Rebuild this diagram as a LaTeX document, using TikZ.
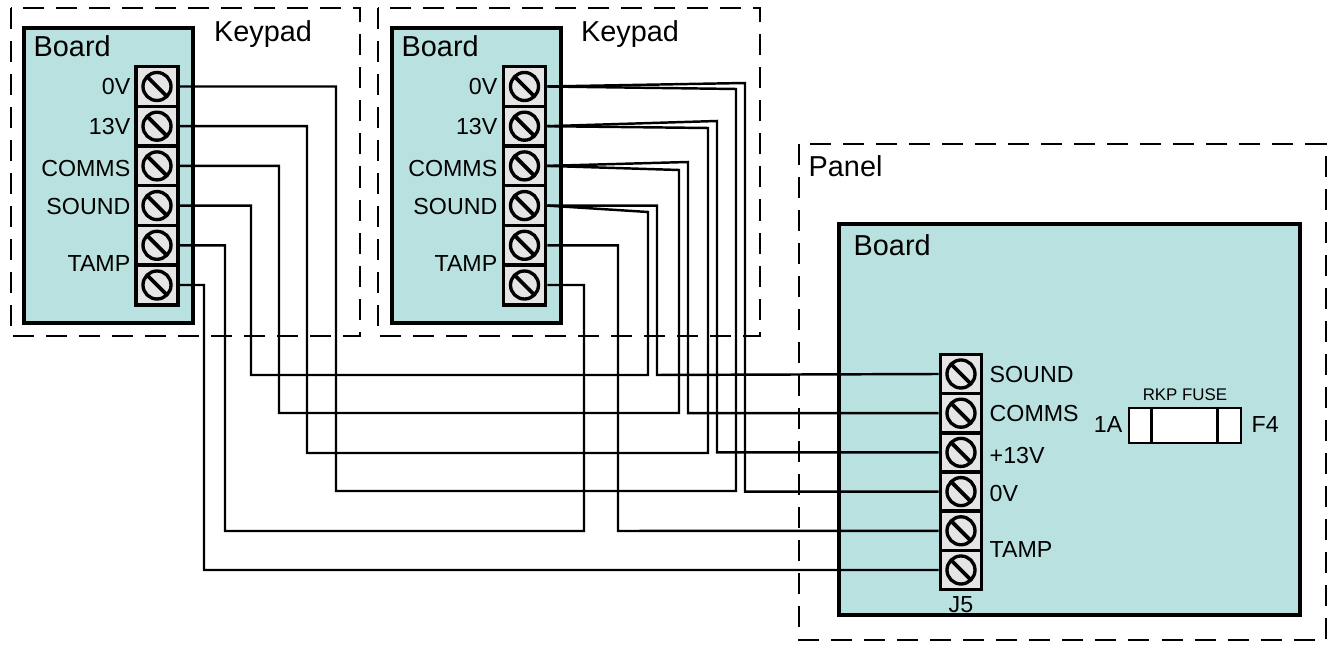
\documentclass[tikz,border=0pt]{standalone}
\usepackage{fontspec}
\setmainfont{Liberation Sans}

\definecolor{boardfill}{RGB}{184,225,223}
\definecolor{termfill}{RGB}{229,229,229}

\tikzset{
  frame/.style={line width=0.75pt,dash pattern=on 0.21cm off 0.12cm},
  board/.style={draw,line width=1.1pt,fill=boardfill},
  term/.style={draw,line width=1pt,fill=termfill,inner sep=0pt,
    minimum width=0.42cm,minimum height=0.397cm,
    path picture={
      \draw[line width=0.95pt] (path picture bounding box.center) circle[radius=0.14cm];
      \draw[line width=1.1pt] ([shift={(-0.1cm,0.1cm)}]path picture bounding box.center)
        -- ([shift={(0.1cm,-0.1cm)}]path picture bounding box.center);}},
  wire/.style={line width=0.7pt},
  big/.style={inner sep=0pt,font=\fontsize{8.2}{10}\selectfont},
  small/.style={inner sep=0pt,font=\fontsize{6.6}{8}\selectfont},
  tiny/.style={inner sep=0pt,font=\fontsize{4.8}{6}\selectfont}
}

\begin{document}
\begin{tikzpicture}[x=0.01cm,y=-0.01cm]

\useasboundingbox (0,0) rectangle (1338,646);

% first keypad
\draw[frame] (11,8) rectangle (360,336);
\node[big,anchor=base] (kp1) at (263,41.5) {Keypad};
\draw[board] (24,28) rectangle (193,323);
\node[big,anchor=base west] (bd1) at (33,57) {Board};
\foreach \i in {1,...,6}
  \node[term] (k1t\i) at (157,{86.5+39.7*(\i-1)}) {};
\foreach \i/\t/\y in {1/0V/95,2/13V/135,3/COMMS/177,4/SOUND/215,5/TAMP/272}
  \node[small,anchor=base east] (k1l\i) at (131,\y) {\t};

% second keypad
\draw[frame] (378,8) rectangle (760,336);
\node[big,anchor=base] (kp2) at (630,41.5) {Keypad};
\draw[board] (392,28) rectangle (561,323);
\node[big,anchor=base west] (bd2) at (401,57) {Board};
\foreach \i in {1,...,6}
  \node[term] (k2t\i) at (524.5,{86.5+39.7*(\i-1)}) {};
\foreach \i/\t/\y in {1/0V/95,2/13V/135,3/COMMS/177,4/SOUND/215,5/TAMP/272}
  \node[small,anchor=base east] (k2l\i) at (498,\y) {\t};

% panel
\draw[frame] (799,144) rectangle (1326,640);
\node[big,anchor=base west] (pn) at (808,177) {Panel};
\draw[board] (839,224) rectangle (1300,615);
\node[big,anchor=base west] (bd3) at (853,256) {Board};
\foreach \i in {1,...,6}
  \node[term,minimum width=0.41cm,minimum height=0.392cm] (pt\i) at (961,{374+39.2*(\i-1)}) {};
\foreach \i/\t/\y in {1/SOUND/383,2/COMMS/422,3/+13V/464,4/0V/502,5/TAMP/558}
  \node[small,anchor=base west] (pl\i) at (989,\y) {\t};
\node[small,anchor=base] (j5) at (961,613) {J5};

\node[draw,line width=0.8pt,fill=white,minimum width=1.12cm,minimum height=0.35cm,inner sep=0pt] (f4) at (1185,425.5) {};
\draw[line width=1pt] ([xshift=0.24cm]f4.north west) -- ([xshift=0.24cm]f4.south west);
\draw[line width=1pt] ([xshift=-0.25cm]f4.north east) -- ([xshift=-0.25cm]f4.south east);
\node[tiny,anchor=base] (fl) at (1185,401) {RKP FUSE};
\node[small,anchor=base east] (fa) at (1123,433) {1A};
\node[small,anchor=base west] (fn) at (1251,433) {F4};

% first keypad to second keypad
\draw[wire] (k1t1.east) -| (336,491) -| (736,89) -- (k2t1.east);
\draw[wire] (k1t2.east) -| (307,453) -| (708,128) -- (k2t2.east);
\draw[wire] (k1t3.east) -| (279,413) -| (679,170) -- (k2t3.east);
\draw[wire] (k1t4.east) -| (251,375) -| (648,212) -- (k2t4.east);
\draw[wire] (k1t5.east) -| (225,531) -| (584,285) -- (k2t6.east);
\draw[wire] (k1t6.east) -| (204,570) -- (pt6.west);

% second keypad to panel
\draw[wire] (k2t1.east) -- (745,83) |- (pt4.west);
\draw[wire] (k2t2.east) -- (717,121) |- (pt3.west);
\draw[wire] (k2t3.east) -- (688,162) |- (pt2.west);
\draw[wire] (k2t4.east) -| (657,375) -- (pt1.west);
\draw[wire] (k2t5.east) -| (618,531) -- (pt5.west);

\end{tikzpicture}
\end{document}
